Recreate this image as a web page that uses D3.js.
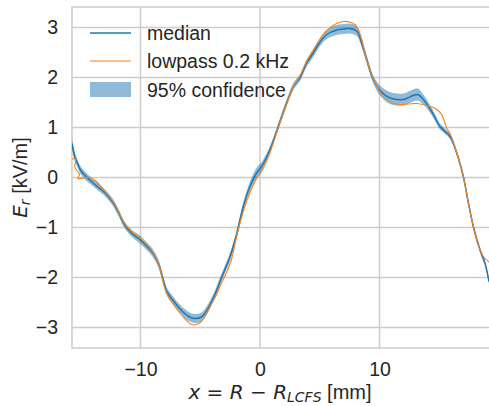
<!DOCTYPE html>
<html>
<head>
<meta charset="utf-8">
<script src="https://cdn.jsdelivr.net/npm/d3@7"></script>
<style>
  html, body { margin: 0; padding: 0; background: #fff; }
  text { font-family: "Liberation Sans", Arial, sans-serif; fill: #262626; }
  .math { font-family: "DejaVu Sans", sans-serif; }
</style>
</head>
<body>
<svg id="chart" width="489" height="406"></svg>
<script>
// ---- data ----
const medianX = [-15.73,-15.5,-15.3,-15.0,-14.6,-14.0,-13.5,-13.0,-12.3,-11.8,-11.4,-10.8,-10.0,-9.5,-9.0,-8.5,-8.1,-7.8,-7.3,-6.9,-6.3,-5.8,-5.4,-4.9,-4.5,-4.2,-3.7,-3.35,-2.9,-2.5,-2.0,-1.4,-0.84,-0.28,0.14,0.84,1.53,2.23,2.79,3.35,3.91,4.46,5.0,5.58,6.42,7.0,7.53,8.09,8.51,8.93,9.48,10.04,10.88,11.99,12.8,13.2,13.67,14.23,14.6,15.06,15.9,16.46,17.01,17.43,17.85,18.41,18.83,19.16];
const medianY = [0.68,0.42,0.3,0.14,0.03,-0.1,-0.2,-0.3,-0.5,-0.72,-0.92,-1.1,-1.25,-1.37,-1.5,-1.72,-2.05,-2.28,-2.45,-2.57,-2.72,-2.8,-2.82,-2.79,-2.68,-2.55,-2.3,-2.08,-1.82,-1.58,-1.18,-0.58,-0.18,0.09,0.22,0.56,1.02,1.49,1.82,2.0,2.29,2.49,2.7,2.86,2.95,2.97,2.98,2.93,2.69,2.36,1.96,1.74,1.59,1.56,1.64,1.66,1.56,1.37,1.22,1.02,0.82,0.49,0.02,-0.5,-0.98,-1.45,-1.72,-2.08];
const ciHalf = [0.1,0.09,0.08,0.08,0.08,0.07,0.07,0.07,0.07,0.07,0.07,0.07,0.08,0.08,0.08,0.08,0.08,0.08,0.08,0.08,0.09,0.09,0.09,0.09,0.09,0.08,0.08,0.08,0.08,0.08,0.08,0.08,0.1,0.11,0.09,0.07,0.07,0.07,0.07,0.07,0.07,0.08,0.08,0.09,0.1,0.1,0.1,0.1,0.09,0.08,0.08,0.1,0.12,0.12,0.12,0.12,0.1,0.08,0.07,0.06,0.05,0.05,0.05,0.05,0.05,0.05,0.05,0.05];

const lowpassX = [-15.73,-15.42,-15.5,-15.3,-15.1,-15.25,-14.8,-14.3,-13.7,-13.0,-12.3,-11.8,-11.4,-10.8,-10.0,-9.5,-9.0,-8.5,-8.1,-7.8,-7.3,-6.9,-6.3,-5.8,-5.5,-5.0,-4.5,-4.1,-3.6,-3.3,-2.8,-2.4,-2.0,-1.4,-0.84,-0.28,0.14,0.84,1.53,2.23,2.79,3.35,3.91,4.46,5.0,5.6,6.4,6.97,7.5,7.95,8.37,8.9,9.5,10.32,11.0,11.72,12.4,13.11,13.95,14.5,14.79,15.2,15.62,15.9,16.46,17.01,17.43,17.85,18.3,18.69,19.16];
const lowpassY = [0.37,0.37,0.22,0.13,0.06,-0.02,-0.01,0.0,-0.08,-0.27,-0.48,-0.7,-0.9,-1.07,-1.22,-1.33,-1.48,-1.72,-2.1,-2.32,-2.52,-2.65,-2.82,-2.93,-2.95,-2.9,-2.72,-2.55,-2.32,-2.15,-1.9,-1.65,-1.22,-0.68,-0.3,-0.02,0.12,0.5,1.0,1.47,1.82,2.03,2.33,2.55,2.76,2.94,3.08,3.12,3.11,3.06,2.87,2.38,1.96,1.62,1.5,1.46,1.47,1.48,1.44,1.4,1.36,1.26,0.99,0.88,0.5,0.02,-0.5,-0.98,-1.38,-1.58,-1.69];

const xTicks = [-10, 0, 10];
const yTicks = [-3, -2, -1, 0, 1, 2, 3];
const legendLabels = ["median", "lowpass 0.2 kHz", "95% confidence"];

// ---- layout ----
const svg = d3.select("#chart");
const L = 72, T = 7, R = 489, B = 348;
const x = d3.scaleLinear().domain([-15.73, 19.16]).range([L, R]);
const y = d3.scaleLinear().domain([-3.41, 3.41]).range([B, T]);
const blue = "#1f77b4", orange = "#ff7f0e", gridC = "#cccccc";

svg.append("defs").append("clipPath").attr("id", "clip")
  .append("rect").attr("x", L).attr("y", T).attr("width", R - L).attr("height", B - T);

// grid
const grid = svg.append("g");
grid.selectAll(".gx").data(xTicks).join("line")
  .attr("x1", d => x(d)).attr("x2", d => x(d)).attr("y1", T).attr("y2", B)
  .attr("stroke", gridC).attr("stroke-width", 1.5);
grid.selectAll(".gy").data(yTicks).join("line")
  .attr("x1", L).attr("x2", R).attr("y1", d => y(d)).attr("y2", d => y(d))
  .attr("stroke", gridC).attr("stroke-width", 1.5);
// spines
svg.append("path")
  .attr("d", `M${R + 5},${T}H${L}V${B}H${R + 5}`)
  .attr("fill", "none").attr("stroke", gridC).attr("stroke-width", 1.5);

// data
const med = medianX.map((v, i) => ({x: v, y: medianY[i], h: ciHalf[i]}));
const lp = lowpassX.map((v, i) => ({x: v, y: lowpassY[i]}));
const plot = svg.append("g").attr("clip-path", "url(#clip)");

plot.append("path").datum(med)
  .attr("d", d3.area().curve(d3.curveCatmullRom)
    .x(d => x(d.x)).y0(d => y(d.y - d.h)).y1(d => y(d.y + d.h)))
  .attr("fill", blue).attr("fill-opacity", 0.5);
plot.append("path").datum(med)
  .attr("d", d3.line().curve(d3.curveCatmullRom).x(d => x(d.x)).y(d => y(d.y)))
  .attr("fill", "none").attr("stroke", blue).attr("stroke-width", 1.5);
plot.append("path").datum(lp)
  .attr("d", d3.line().curve(d3.curveCatmullRom).x(d => x(d.x)).y(d => y(d.y)))
  .attr("fill", "none").attr("stroke", orange).attr("stroke-width", 1.1);

// axes
const fs = "19.5px";
const xAxis = svg.append("g").attr("transform", `translate(0,${B})`)
  .call(d3.axisBottom(x).tickValues(xTicks).tickFormat(d3.format("d")).tickSize(0).tickPadding(14));
const yAxis = svg.append("g").attr("transform", `translate(${L},0)`)
  .call(d3.axisLeft(y).tickValues(yTicks).tickFormat(d3.format("d")).tickSize(0).tickPadding(14));
[xAxis, yAxis].forEach(a => {
  a.select(".domain").remove();
  a.selectAll("text").style("font-size", fs).attr("fill", "#262626")
    .style("font-family", '"Liberation Sans", Arial, sans-serif');
});

// axis labels (built with start anchor, then centred by measuring)
function centre(textSel, cx) {
  const w = textSel.node().getComputedTextLength();
  textSel.attr("x", cx - w / 2);
}
const lfs = "20px";
const xl = svg.append("text").attr("y", 399).style("font-size", lfs);
xl.append("tspan").attr("class", "math").style("font-style", "italic").text("x");
xl.append("tspan").attr("class", "math").text(" = ");
xl.append("tspan").attr("class", "math").style("font-style", "italic").text("R");
xl.append("tspan").attr("class", "math").text(" − ");
xl.append("tspan").attr("class", "math").style("font-style", "italic").text("R");
xl.append("tspan").attr("class", "math").style("font-style", "italic").style("font-size", "14px").attr("dy", 3).text("LCFS");
xl.append("tspan").attr("dy", -3).text(" [mm]");
centre(xl, 280);

const yl = svg.append("text").attr("transform", `translate(27,0) rotate(-90)`)
  .attr("y", 0).style("font-size", lfs);
yl.append("tspan").attr("class", "math").style("font-style", "italic").text("E");
yl.append("tspan").attr("class", "math").style("font-style", "italic").style("font-size", "14px").attr("dy", 3).text("r");
yl.append("tspan").attr("dy", -3).text(" [kV/m]");
{
  const w = yl.node().getComputedTextLength();
  yl.attr("x", -177.5 - w / 2);
}

// legend
const lg = svg.append("g");
const rowY = [33, 61, 89.5];
lg.append("line").attr("x1", 90).attr("x2", 131).attr("y1", rowY[0]).attr("y2", rowY[0])
  .attr("stroke", blue).attr("stroke-width", 1.5);
lg.append("line").attr("x1", 90).attr("x2", 131).attr("y1", rowY[1]).attr("y2", rowY[1])
  .attr("stroke", orange).attr("stroke-width", 1.1);
lg.append("rect").attr("x", 90).attr("y", rowY[2] - 7.5).attr("width", 41).attr("height", 15)
  .attr("fill", blue).attr("fill-opacity", 0.5);
lg.selectAll(".lt").data(legendLabels).join("text")
  .attr("x", 147).attr("y", (d, i) => rowY[i] + 7)
  .style("font-size", fs).text(d => d);
</script>
</body>
</html>
